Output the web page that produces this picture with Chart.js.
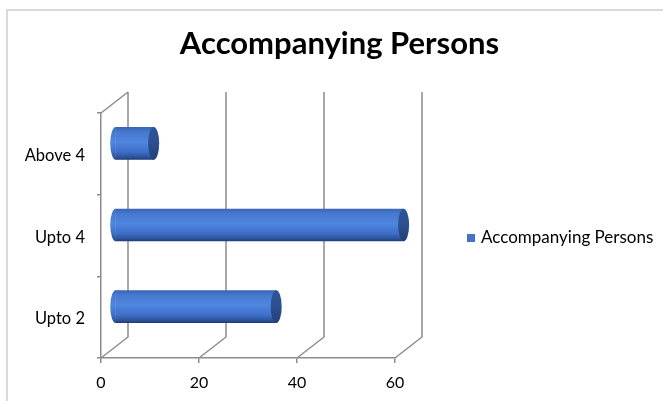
<!DOCTYPE html>
<html>
<head>
<meta charset="utf-8">
<script src="https://cdn.jsdelivr.net/npm/chart.js@4.4.1/dist/chart.umd.min.js"></script>
<style>
  html, body { margin: 0; padding: 0; background: #fff; }
</style>
</head>
<body>
<canvas id="personsChart" width="663" height="401"></canvas>
<script>
// Categories, top to bottom
const categories = ['Above 4', 'Upto 4', 'Upto 2'];
const persons = [8, 59, 33];
const seriesName = 'Accompanying Persons';
const xMax = 60;
const xStep = 20;

// Depth of the 3D box (offset of the back wall)
const DX = 27, DY = -21;
const gridColor = '#8c8c8c';
const seriesColor = '#4472c4';

function bodyGradient(ctx, top, bottom) {
    if (!Number.isFinite(top) || !Number.isFinite(bottom)) return seriesColor;
    const g = ctx.createLinearGradient(0, top, 0, bottom);
    g.addColorStop(0, '#3a64b2');
    g.addColorStop(0.15, '#4678cd');
    g.addColorStop(0.45, '#4f86e0');
    g.addColorStop(0.75, '#3f70c9');
    g.addColorStop(0.92, '#2c539b');
    g.addColorStop(1, '#1f3c74');
    return g;
}

const frame3d = {
    id: 'frame3d',
    beforeDraw(chart) {
        // light border round the chart box
        const ctx = chart.ctx;
        ctx.save();
        ctx.strokeStyle = '#d9d9d9';
        ctx.lineWidth = 2;
        ctx.beginPath();
        ctx.moveTo(7, chart.height);
        ctx.lineTo(7, 10);
        ctx.lineTo(chart.width, 10);
        ctx.stroke();
        ctx.restore();
    },
    beforeDatasetsDraw(chart) {
        const { ctx, chartArea: a, scales: { x } } = chart;
        ctx.save();
        ctx.strokeStyle = gridColor;
        ctx.lineWidth = 1.5;
        ctx.beginPath();
        // top edge of the left wall
        ctx.moveTo(a.left, a.top);
        ctx.lineTo(a.left + DX, a.top + DY);
        // floor diagonals + back wall gridlines
        x.ticks.forEach(t => {
            const px = x.getPixelForValue(t.value);
            ctx.moveTo(px, a.bottom);
            ctx.lineTo(px + DX, a.bottom + DY);
            ctx.lineTo(px + DX, a.top + DY);
        });
        ctx.stroke();
        ctx.restore();

        // the cylinders sit halfway into the box
        ctx.save();
        ctx.translate(DX / 2, DY / 2);
        // rounded back ends, under the bar bodies
        chart.getDatasetMeta(0).data.forEach(bar => {
            const ry = bar.height / 2;
            ctx.fillStyle = bodyGradient(ctx, bar.y - ry, bar.y + ry);
            ctx.beginPath();
            ctx.ellipse(bar.base + 0.5, bar.y, 5.5, ry, 0, Math.PI / 2, Math.PI * 1.5);
            ctx.fill();
        });
    },
    afterDatasetsDraw(chart) {
        const ctx = chart.ctx;
        chart.getDatasetMeta(0).data.forEach(bar => {
            const ry = bar.height / 2;
            const cap = ctx.createLinearGradient(0, bar.y - ry, 0, bar.y + ry);
            cap.addColorStop(0, '#2f5598');
            cap.addColorStop(0.5, '#2c4f8f');
            cap.addColorStop(1, '#233f75');
            ctx.fillStyle = cap;
            ctx.beginPath();
            ctx.ellipse(bar.x, bar.y, 5.5, ry, 0, 0, Math.PI * 2);
            ctx.fill();
        });
        ctx.restore();
    },
    afterDraw(chart) {
        // legend to the right of the box
        const { ctx, chartArea: a } = chart;
        const lx = a.right + 72;
        const ly = (a.top + a.bottom) / 2 + 2.5;
        ctx.save();
        ctx.fillStyle = seriesColor;
        ctx.fillRect(lx, ly - 4, 8, 8);
        ctx.fillStyle = '#000';
        ctx.font = '17px Lato';
        ctx.textBaseline = 'middle';
        ctx.fillText(chart.data.datasets[0].label, lx + 14, ly);
        ctx.restore();
    }
};

const data = {
    labels: categories,
    datasets: [{
        label: seriesName,
        data: persons,
        backgroundColor(context) {
            const chart = context.chart;
            const y = chart.scales.y;
            if (!y || context.dataIndex === undefined) return seriesColor;
            const c = y.getPixelForValue(context.dataIndex);
            const h = (y.getPixelForValue(1) - y.getPixelForValue(0)) * 0.4;
            return bodyGradient(chart.ctx, c - h / 2, c + h / 2);
        },
        borderWidth: 0,
        categoryPercentage: 1,
        barPercentage: 0.4,
        clip: false
    }]
};

const config = {
    type: 'bar',
    data: data,
    options: {
        indexAxis: 'y',
        responsive: false,
        animation: false,
        layout: { padding: { left: 16, right: 0, top: 0, bottom: 0 } },
        scales: {
            x: {
                min: 0,
                max: xMax,
                ticks: { stepSize: xStep, color: '#000', padding: 10, font: { family: 'Lato', size: 16 } },
                grid: { drawOnChartArea: false, drawTicks: true, tickLength: 5, color: gridColor, lineWidth: 1.5 },
                border: { display: true, color: gridColor, width: 1.5 },
                afterFit(scale) { scale.height = 43; }
            },
            y: {
                ticks: { color: '#000', padding: 12, labelOffset: 2, font: { family: 'Lato', size: 16.5 } },
                grid: { drawOnChartArea: false, drawTicks: true, tickLength: 4, offset: true, color: gridColor, lineWidth: 1.5 },
                border: { display: true, color: gridColor, width: 1.5 },
                afterFit(scale) { scale.width = 85; }
            },
            // empty strip on the right that holds the legend
            legendSpace: {
                type: 'linear',
                position: 'right',
                grid: { display: false },
                ticks: { display: false },
                border: { display: false },
                afterFit(scale) { scale.width = 268; }
            }
        },
        plugins: {
            title: {
                display: true,
                text: 'Accompanying Persons',
                color: '#000',
                font: { family: 'Lato', size: 31, weight: 'bold' },
                padding: { top: 25, bottom: 50.8 }
            },
            legend: { display: false },
            tooltip: { enabled: false }
        }
    },
    plugins: [frame3d]
};

const ctx = document.getElementById('personsChart').getContext('2d');
new Chart(ctx, config);
</script>
</body>
</html>
